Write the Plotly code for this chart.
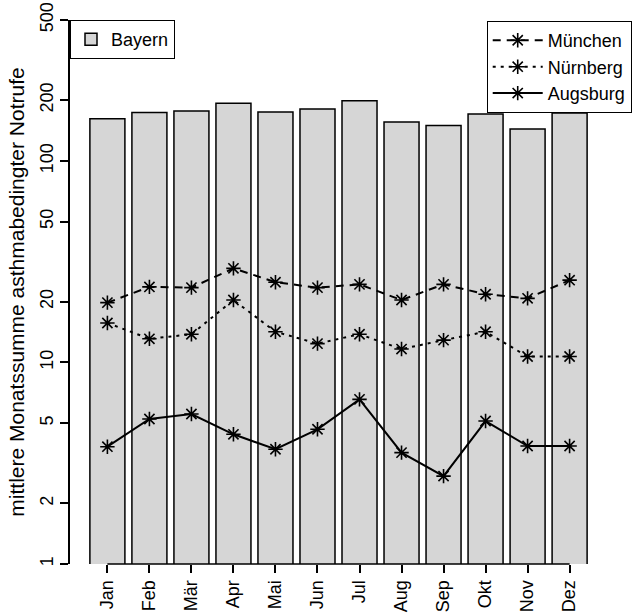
import plotly.graph_objects as go

months = ["Jan", "Feb", "Mär", "Apr", "Mai", "Jun", "Jul", "Aug", "Sep", "Okt", "Nov", "Dez"]
bayern = [162, 174, 177, 193, 175, 181, 199, 156, 150, 171, 144, 173]
muenchen = [19.8, 23.7, 23.5, 29.3, 25.0, 23.5, 24.4, 20.4, 24.4, 21.8, 20.8, 25.6]
nuernberg = [15.7, 13.1, 13.8, 20.4, 14.2, 12.4, 13.8, 11.65, 12.9, 14.2, 10.7, 10.7]
augsburg = [3.82, 5.24, 5.55, 4.40, 3.71, 4.66, 6.56, 3.57, 2.73, 5.12, 3.85, 3.85]
y_ticks = [1, 2, 5, 10, 20, 50, 100, 200, 500]
y_title = "mittlere Monatssumme asthmabedingter Notrufe"

FONT = "Liberation Sans, Arial, Helvetica, sans-serif"

fig = go.Figure()
fig.add_trace(go.Bar(
    x=months, y=bayern, name="Bayern",
    marker=dict(color="#d6d6d6", line=dict(color="black", width=1.5)),
    legend="legend",
))

line_specs = [
    ("München", muenchen, "8px,6px"),
    ("Nürnberg", nuernberg, "3px,5px"),
    ("Augsburg", augsburg, "solid"),
]
for name, vals, dash in line_specs:
    fig.add_trace(go.Scatter(
        x=months, y=vals, name=name, mode="lines+markers",
        line=dict(color="black", width=2, dash=dash),
        marker=dict(symbol="asterisk-open", size=12, color="black",
                    line=dict(color="black", width=1.6)),
        legend="legend2",
    ))

# x axis line from first to last category (R style)
fig.add_shape(type="line", xref="x", yref="paper", x0=months[0], x1=months[-1],
              y0=0, y1=0, line=dict(color="black", width=1.5))

fig.update_layout(
    width=641, height=613,
    margin=dict(l=70, r=34, t=20, b=49, autoexpand=False),
    paper_bgcolor="white", plot_bgcolor="white",
    font=dict(family=FONT, size=18, color="black"),
    bargap=1 - 1 / 1.2,
    showlegend=True,
    legend=dict(x=0, y=1, xanchor="left", yanchor="top",
                bgcolor="white", bordercolor="black", borderwidth=1,
                font=dict(size=18)),
    legend2=dict(x=0.776, y=0.998, xanchor="left", yanchor="top",
                 bgcolor="white", bordercolor="black", borderwidth=1,
                 itemwidth=50, font=dict(size=18), tracegroupgap=0),
)
fig.update_xaxes(
    type="category", range=[-0.89, 11.89], automargin=False,
    showline=False, showgrid=False, zeroline=False,
    ticks="outside", ticklen=8, tickwidth=1.5, tickcolor="black",
    tickangle=-90, tickfont=dict(size=18), ticklabeloverflow="allow",
)
fig.update_yaxes(
    type="log", range=[0, 2.69897], automargin=False,
    tickvals=y_ticks, ticktext=[str(v) for v in y_ticks],
    showline=True, linecolor="black", linewidth=1.5,
    showgrid=False, zeroline=False,
    ticks="outside", ticklen=8, tickwidth=1.5, tickcolor="black",
    tickangle=-90, tickfont=dict(size=18), ticklabeloverflow="allow",
    title=dict(text=y_title, font=dict(size=21), standoff=7),
)

fig.write_html("out.html", config={"displayModeBar": False},
               post_script="document.body.style.margin='0px';")
